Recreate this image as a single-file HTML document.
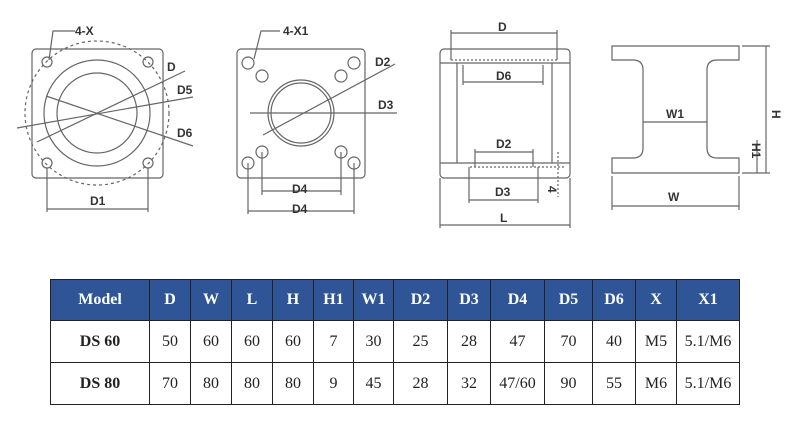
<!DOCTYPE html>
<html><head><meta charset="utf-8"><style>
html,body{margin:0;padding:0;background:#fff;width:789px;height:427px;overflow:hidden}
svg{position:absolute;left:0;top:0}
table{position:absolute;left:50px;top:279px;border-collapse:collapse;font-family:"Liberation Serif",serif;font-size:16px;table-layout:fixed}
td,th{border:1px solid #222;text-align:center;padding:0}
th{background:#2f5597;color:#fff;height:40px;font-weight:bold}
td{height:41px;color:#222}
td.m{font-weight:bold}
</style></head><body>
<svg width="789" height="270" viewBox="0 0 789 270" font-family="Liberation Sans, sans-serif" font-size="11" fill="none" stroke="#666" stroke-width="1.2">
<rect x="32" y="49" width="131" height="129" rx="4"/>
<circle cx="97" cy="113" r="72" stroke-dasharray="3,3"/>
<circle cx="97" cy="113" r="53"/>
<circle cx="97" cy="113" r="40"/>
<circle cx="47" cy="62" r="5"/><circle cx="148" cy="62" r="5"/><circle cx="47" cy="163" r="5"/><circle cx="148" cy="163" r="5"/>
<line x1="17" y1="128" x2="193" y2="97"/>
<line x1="37" y1="142" x2="185" y2="71"/>
<line x1="46" y1="96" x2="193" y2="146"/>
<polyline points="49,60 53,31 75,31"/>
<line x1="47" y1="168" x2="47" y2="212"/><line x1="148" y1="168" x2="148" y2="212"/>
<line x1="47" y1="209" x2="148" y2="209"/>
<rect x="237" y="49" width="128" height="129" rx="4"/>
<circle cx="301" cy="113" r="33"/><circle cx="301" cy="113" r="30"/>
<circle cx="248" cy="63" r="6"/><circle cx="262" cy="76" r="6"/><circle cx="341" cy="76" r="6"/><circle cx="354" cy="63" r="6"/>
<circle cx="262" cy="152" r="6"/><circle cx="341" cy="152" r="6"/><circle cx="248" cy="163" r="6"/><circle cx="354" cy="163" r="6"/>
<line x1="250" y1="113" x2="397" y2="113"/>
<line x1="263" y1="135" x2="395" y2="64"/>
<polyline points="254,59 261,31 280,31"/>
<line x1="262" y1="152" x2="262" y2="195"/><line x1="341" y1="152" x2="341" y2="195"/>
<line x1="262" y1="191" x2="341" y2="191"/>
<line x1="248" y1="163" x2="248" y2="214"/><line x1="354" y1="163" x2="354" y2="214"/>
<line x1="248" y1="211" x2="354" y2="211"/>
<rect x="440" y="49" width="130" height="129" rx="4"/>
<line x1="440" y1="63" x2="570" y2="63"/><line x1="440" y1="163" x2="570" y2="163"/>
<line x1="457" y1="63" x2="457" y2="163"/><line x1="552" y1="63" x2="552" y2="163"/>
<line x1="451" y1="60" x2="557" y2="60" stroke-dasharray="2,2"/>
<line x1="470" y1="167" x2="565" y2="167" stroke-dasharray="2,2"/>
<line x1="451" y1="30" x2="451" y2="60"/><line x1="557" y1="30" x2="557" y2="60"/>
<line x1="451" y1="33" x2="557" y2="33"/>
<line x1="463" y1="65" x2="463" y2="85"/><line x1="543" y1="65" x2="543" y2="85"/>
<line x1="463" y1="82" x2="543" y2="82"/>
<line x1="475" y1="149" x2="475" y2="167"/><line x1="533" y1="149" x2="533" y2="167"/>
<line x1="475" y1="152" x2="533" y2="152"/>
<line x1="469" y1="167" x2="469" y2="203"/><line x1="538" y1="167" x2="538" y2="203"/>
<line x1="469" y1="200" x2="538" y2="200"/>
<line x1="558" y1="152" x2="558" y2="197" stroke-dasharray="2,2"/>
<line x1="440" y1="178" x2="440" y2="228"/><line x1="570" y1="178" x2="570" y2="228"/>
<line x1="440" y1="225" x2="570" y2="225"/>
<path d="M612,46 H739 V60 H717 Q707,60 707,70 V148 Q707,158 717,158 H739 V173 H612 V158 H633 Q643,158 643,148 V70 Q643,60 633,60 H612 Z"/>
<line x1="643" y1="122" x2="707" y2="122"/>
<line x1="742" y1="46" x2="770" y2="46"/><line x1="742" y1="173" x2="770" y2="173"/>
<line x1="766" y1="46" x2="766" y2="173"/>
<line x1="757" y1="140" x2="757" y2="173"/>
<line x1="612" y1="176" x2="612" y2="210"/><line x1="739" y1="176" x2="739" y2="210"/>
<line x1="612" y1="206" x2="739" y2="206"/>
<g fill="#333" stroke="none" font-size="12" font-weight="bold">
<text x="75" y="35">4-X</text>
<text x="167" y="71">D</text>
<text x="177" y="94">D5</text>
<text x="177" y="137">D6</text>
<text x="90" y="205">D1</text>
<text x="283" y="35">4-X1</text>
<text x="375" y="66">D2</text>
<text x="378" y="109">D3</text>
<text x="292" y="193">D4</text>
<text x="292" y="213">D4</text>
<text x="498" y="31">D</text>
<text x="496" y="80">D6</text>
<text x="496" y="148">D2</text>
<text x="495" y="196">D3</text>
<text x="500" y="222">L</text>
<text x="666" y="118">W1</text>
<text x="668" y="201">W</text>
<text transform="translate(772,110) rotate(90)">H</text>
<text transform="translate(752,143) rotate(90)">H1</text>
<text transform="translate(548,186) rotate(90)">4</text>
</g>
</svg>
<table>
<colgroup><col style="width:99px"><col style="width:41px"><col style="width:41px"><col style="width:41px"><col style="width:41px"><col style="width:40px"><col style="width:40px"><col style="width:54px"><col style="width:43px"><col style="width:54px"><col style="width:48px"><col style="width:43px"><col style="width:41px"><col style="width:63px"></colgroup>
<tr><th>Model</th><th>D</th><th>W</th><th>L</th><th>H</th><th>H1</th><th>W1</th><th>D2</th><th>D3</th><th>D4</th><th>D5</th><th>D6</th><th>X</th><th>X1</th></tr>
<tr><td class="m">DS 60</td><td>50</td><td>60</td><td>60</td><td>60</td><td>7</td><td>30</td><td>25</td><td>28</td><td>47</td><td>70</td><td>40</td><td>M5</td><td>5.1/M6</td></tr>
<tr><td class="m">DS 80</td><td>70</td><td>80</td><td>80</td><td>80</td><td>9</td><td>45</td><td>28</td><td>32</td><td>47/60</td><td>90</td><td>55</td><td>M6</td><td>5.1/M6</td></tr>
</table>
</body></html>
